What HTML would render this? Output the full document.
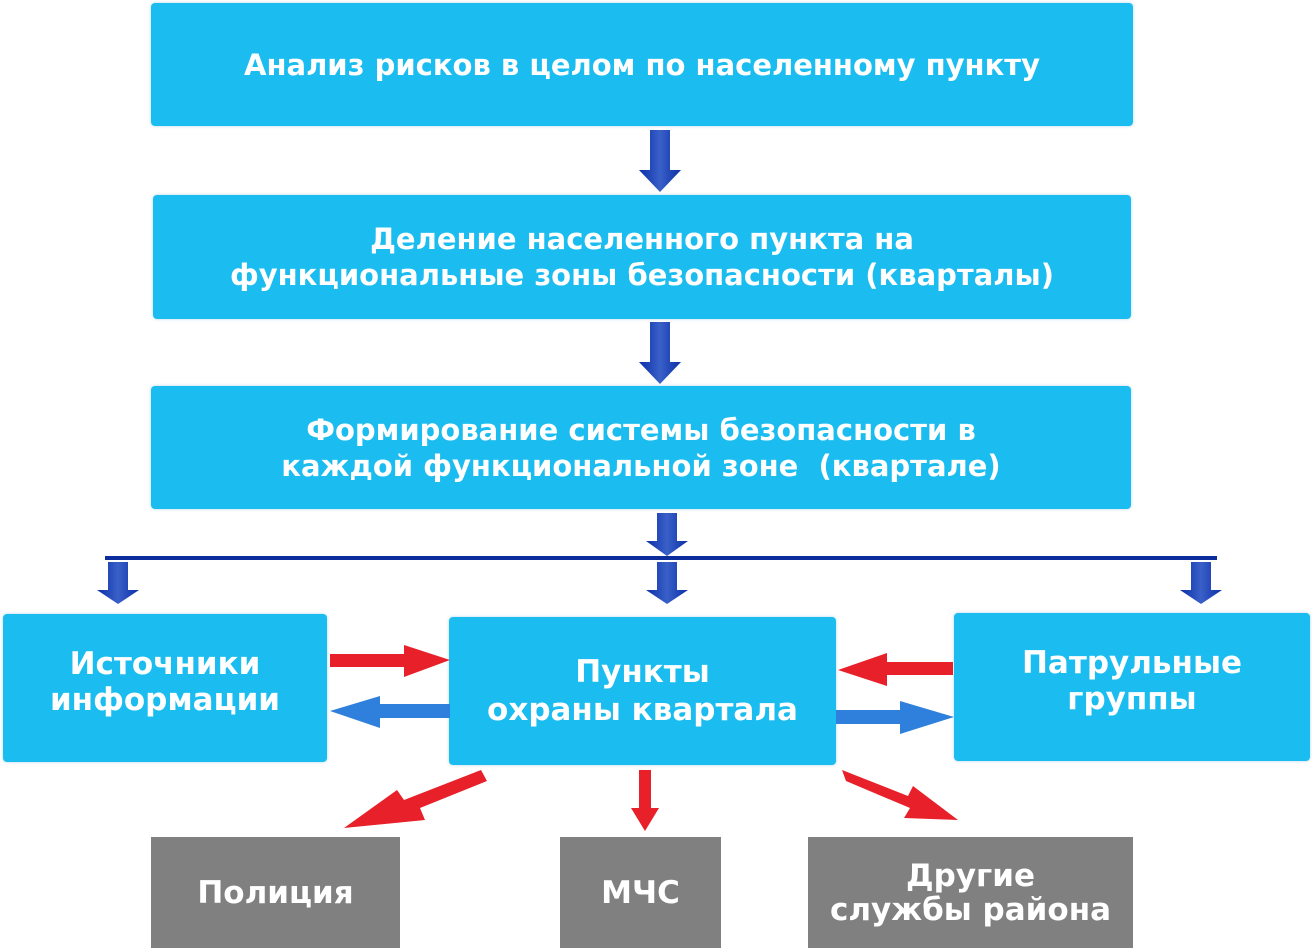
<!DOCTYPE html>
<html><head><meta charset="utf-8"><style>
body{margin:0;width:1312px;height:948px;background:#fff;position:relative;overflow:hidden;font-family:"DejaVu Sans","Liberation Sans",sans-serif;font-weight:bold;color:#fff}
.b{position:absolute;background:#1bbcef;border-radius:4px;display:flex;align-items:center;justify-content:center;text-align:center;box-shadow:0 0 3px rgba(0,120,180,.3)}
.g{position:absolute;background:#808080;display:flex;align-items:center;justify-content:center;text-align:center;font-size:31px;line-height:34px}
svg{position:absolute;left:0;top:0}
</style></head><body>
<div class="b" style="left:151px;top:3px;width:982px;height:123px;font-size:29px">Анализ рисков в целом по населенному пункту</div>
<div class="b" style="left:153px;top:195px;width:978px;height:124px;font-size:29px;line-height:36px">Деление населенного пункта на<br>функциональные зоны безопасности (кварталы)</div>
<div class="b" style="left:151px;top:386px;width:980px;height:123px;font-size:29px;line-height:36px">Формирование системы безопасности в<br>каждой функциональной зоне&nbsp; (квартале)</div>
<div class="b" style="left:3px;top:614px;width:324px;height:148px;font-size:31px;line-height:36px;align-items:flex-start;padding-top:32px;box-sizing:border-box">Источники<br>информации</div>
<div class="b" style="left:449px;top:617px;width:387px;height:148px;font-size:31px;line-height:38px;padding-top:0">Пункты<br>охраны квартала</div>
<div class="b" style="left:954px;top:613px;width:356px;height:148px;font-size:31px;line-height:36px;align-items:flex-start;padding-top:32px;box-sizing:border-box">Патрульные<br>группы</div>
<div class="g" style="left:151px;top:837px;width:249px;height:111px">Полиция</div>
<div class="g" style="left:560px;top:837px;width:161px;height:111px">МЧС</div>
<div class="g" style="left:808px;top:837px;width:325px;height:111px;padding-top:0">Другие<br>службы района</div>
<svg width="1312" height="948">
<defs>
<linearGradient id="db" x1="0" x2="1"><stop offset="0" stop-color="#0a2fa8"/><stop offset=".5" stop-color="#3a60c8"/><stop offset="1" stop-color="#0a2fa8"/></linearGradient>
</defs>
<g fill="url(#db)">
<polygon points="650,130 670,130 670,170 681,170 660,192 639,170 650,170"/>
<polygon points="650,322 670,322 670,362 681,362 660,384 639,362 650,362"/>
<polygon points="657,513 677,513 677,541 688,541 667,556 646,541 657,541"/>
<polygon points="657,562 677,562 677,590 688,590 667,604 646,590 657,590"/>
<polygon points="108,562 128,562 128,590 139,590 118,604 97,590 108,590"/>
<polygon points="1191,562 1211,562 1211,590 1222,590 1201,604 1180,590 1191,590"/>
</g>
<rect x="105" y="556" width="1112" height="4" fill="#0c2c9c"/>
<g fill="#e8202a">
<polygon points="330,654 404,654 404,645 450,660 404,677 404,667 330,667"/>
<polygon points="953,662 887,662 887,653 838,670 887,686 887,675 953,675"/>
<polygon points="639,770 651,770 651,808 659,808 645,831 631,808 639,808"/>
<polygon points="481,770 487,781 420,808 425,820 344,828 397,790 404,800"/>
<polygon points="842,770 846,781 910,808 904,818 958,820 913,786 908,796"/>
</g>
<g fill="#2f80dc">
<polygon points="450,704 380,704 380,696 330,711 380,728 380,718 450,718"/>
<polygon points="836,710 900,710 900,701 954,717 900,734 900,724 836,724"/>
</g>
</svg>
</body></html>
